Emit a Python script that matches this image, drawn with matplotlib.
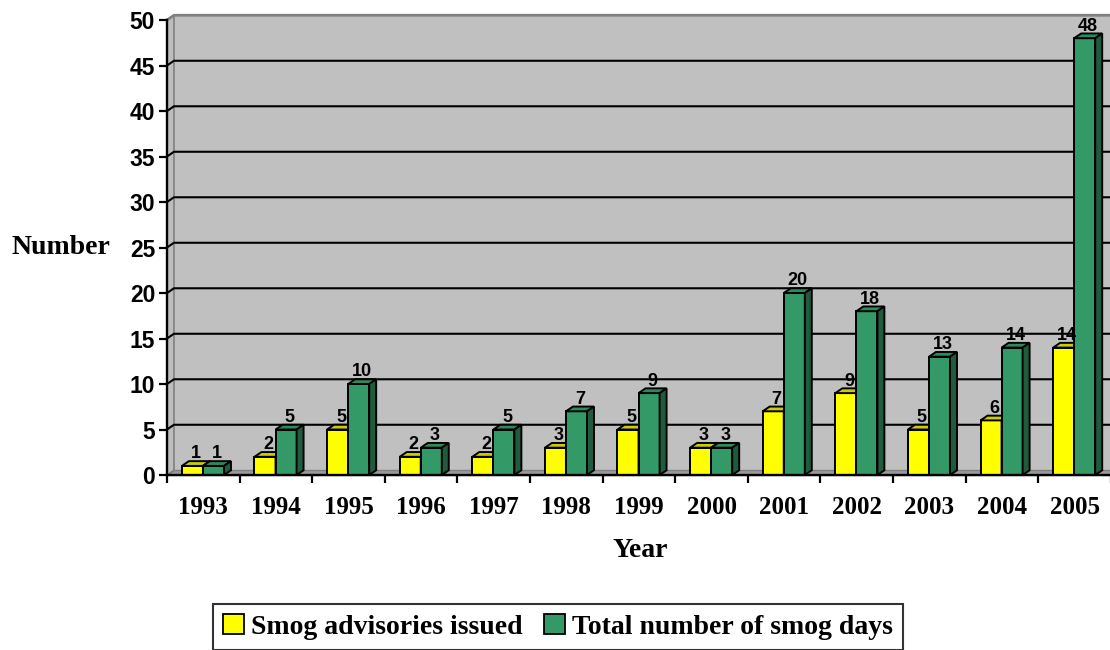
import matplotlib.pyplot as plt
from matplotlib.patches import Polygon, Patch
import numpy as np

years = ['1993', '1994', '1995', '1996', '1997', '1998', '1999',
         '2000', '2001', '2002', '2003', '2004', '2005']
advisories = [1, 2, 5, 2, 2, 3, 5, 3, 7, 9, 5, 6, 14]
smog_days = [1, 5, 10, 3, 5, 7, 9, 3, 20, 18, 13, 14, 48]

sans = 'Liberation Sans'
serif = 'Liberation Serif'

# fake 3d depth of walls and columns, in data units
dx = 0.096
dy = 0.52
bar_w = 0.29

fig = plt.figure(figsize=(11.1, 6.5), dpi=100)
ax = fig.add_axes([0.15045, 0.26923, 0.8503, 0.7])
n = len(years)
ax.set_xlim(-0.5, n - 0.5)
ax.set_ylim(0, 50)
ax.patch.set_visible(False)

right = n + 1
# back wall, side wall, floor
ax.add_patch(Polygon([(-0.5 + dx, dy), (right, dy), (right, 50 + dy), (-0.5 + dx, 50 + dy)],
                     closed=True, facecolor='#C0C0C0', edgecolor='none', zorder=0, clip_on=False))
ax.add_patch(Polygon([(-0.5, 0), (-0.5 + dx, dy), (-0.5 + dx, 50 + dy), (-0.5, 50)],
                     closed=True, facecolor='#BDBDBD', edgecolor='#808080', lw=1.2, zorder=0.5, clip_on=False))
ax.add_patch(Polygon([(-0.5, 0), (right, 0), (right, dy), (-0.5 + dx, dy)],
                     closed=True, facecolor='#9A9A9A', edgecolor='#808080', lw=1, zorder=0.5, clip_on=False))
ax.plot([-0.5, -0.5 + dx, right], [50, 50 + dy, 50 + dy], color='#808080', lw=2, zorder=1, clip_on=False)

# gridlines across side wall and back wall
for v in range(5, 50, 5):
    ax.plot([-0.5, -0.5 + dx, right], [v, v + dy, v + dy], color='black', lw=1.5, zorder=1, clip_on=False)


def column(x, v, front, top, side):
    x0, x1 = x - bar_w / 2, x + bar_w / 2
    ax.bar(x, v, bar_w, color=front, edgecolor='black', lw=1.4, zorder=3)
    ax.add_patch(Polygon([(x0, v), (x1, v), (x1 + dx, v + dy), (x0 + dx, v + dy)],
                         closed=True, facecolor=top, edgecolor='black', lw=1.4, zorder=3, clip_on=False))
    ax.add_patch(Polygon([(x1, 0), (x1 + dx, dy), (x1 + dx, v + dy), (x1, v)],
                         closed=True, facecolor=side, edgecolor='black', lw=1.4, zorder=3, clip_on=False))
    ax.annotate(str(v), (x + dx / 2, v + dy), xytext=(0, 2), textcoords='offset points',
                ha='center', va='baseline', fontsize=13, fontweight='bold', family=sans,
                zorder=5, annotation_clip=False)


x = np.arange(n)
for i in range(n):
    column(x[i] - 0.15, advisories[i], '#FFFF00', '#CCCC00', '#999900')
    column(x[i] + 0.14, smog_days[i], '#339966', '#2E8A5B', '#1F5C3D')

# axes, ticks and labels
for s in ['top', 'right']:
    ax.spines[s].set_visible(False)
ax.spines['left'].set_linewidth(1.7)
ax.spines['bottom'].set_linewidth(1.7)
ax.spines['left'].set_zorder(4)
ax.spines['bottom'].set_zorder(4)

ax.set_yticks(range(0, 51, 5))
ax.tick_params(axis='y', direction='out', length=5.5, width=1.6, pad=3, labelsize=16.5)
for lbl in ax.get_yticklabels():
    lbl.set_fontweight('bold')
    lbl.set_family(sans)

ax.set_xticks(x)
ax.set_xticklabels(years, fontsize=18, fontweight='bold', family=serif)
ax.set_xticks(np.arange(-0.5, n, 1), minor=True)
ax.tick_params(axis='x', which='major', length=0, pad=15)
ax.tick_params(axis='x', which='minor', direction='out', length=6, width=1.6)

ax.set_xlabel('Year', fontsize=20, fontweight='bold', family=serif, va='center')
ax.xaxis.set_label_coords(0.501, -0.165)
ax.set_ylabel('Number', fontsize=20, fontweight='bold', family=serif, rotation=0,
              ha='center', va='center')
ax.yaxis.set_label_coords(-0.1123, 0.5)

handles = [Patch(facecolor='#FFFF00', edgecolor='black', lw=1.3, label='Smog advisories issued'),
           Patch(facecolor='#339966', edgecolor='black', lw=1.3, label='Total number of smog days')]
leg = fig.legend(handles=handles, loc='center', bbox_to_anchor=(558 / 1110, 1 - 627 / 650), ncol=2,
                 prop={'family': serif, 'weight': 'bold', 'size': 20}, frameon=True, fancybox=False,
                 handlelength=0.75, handleheight=0.75, handletextpad=0.25, columnspacing=0.8,
                 borderpad=0.35, borderaxespad=0)
leg.get_frame().set_edgecolor('black')
leg.get_frame().set_linewidth(1.5)

fig.savefig('out.png', dpi=100)
